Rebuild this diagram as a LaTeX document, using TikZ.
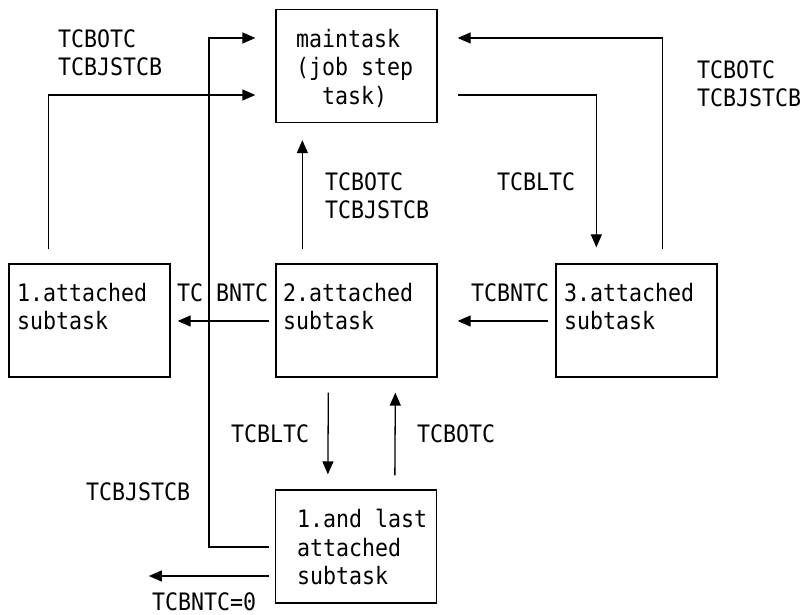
\documentclass[tikz,border=0pt]{standalone}
\usepackage{fontspec}
\setmainfont[FakeStretch=0.9]{DejaVu Sans Mono}
\usetikzlibrary{arrows.meta,calc}
\tikzset{
  box/.style={draw, line width=1.3pt, minimum width=161pt, minimum height=113pt, inner sep=0pt},
  txt/.style={anchor=north west, inner sep=0pt, align=left},
  arr/.style={line width=1.3pt, -{Triangle[length=13pt,width=11pt]}},
}
\begin{document}
\begin{tikzpicture}[x=1pt,y=-1pt, every node/.style={font=\fontsize{24}{28.5}\selectfont}]
\useasboundingbox (0,0) rectangle (804,615);
% boxes
\node[box] (main) at (356.5,66) {};
\node[box] (box1) at (89.5,320.5) {};
\node[box] (box2) at (356.5,320.5) {};
\node[box] (box3) at (636.5,320.5) {};
\node[box] (box4) at (356,546.5) {};
% box texts
\node[txt] (tmain) at (296,29) {maintask\\(job step\\~~task)};
\node[txt] (t1) at (17,283) {1.attached\\subtask};
\node[txt] (t2) at (283,283) {2.attached\\subtask};
\node[txt] (t3) at (564,283) {3.attached\\subtask};
\node[txt] (t4) at (297,509) {1.and last\\attached\\subtask};
% labels
\node[txt] (l1) at (58,29) {TCBOTC\\TCBJSTCB};
\node[txt] (l2) at (325,172) {TCBOTC\\TCBJSTCB};
\node[txt] (l3) at (497,172) {TCBLTC};
\node[txt] (l4) at (697,60) {TCBOTC\\TCBJSTCB};
\node[txt] (l5) at (177,283) {TC BNTC};
\node[txt] (l6) at (471,283) {TCBNTC};
\node[txt] (l7) at (231,424) {TCBLTC};
\node[txt] (l8) at (417,424) {TCBOTC};
\node[txt] (l9) at (86,482) {TCBJSTCB};
\node[txt] (l10) at (152,592) {TCBNTC=0};
% connectors
\coordinate (jv) at (209,38);
\draw[arr] ($(box1.north west)+(40,-14)$) |- ($(main.west)+(-20,29)$);
\draw[arr] ($(box4.west)+(-6,0.5)$) -| (jv) -- ($(main.west)+(-20,-28)$);
\draw[arr] ($(box2.north west)+(27,-14)$) -- ($(main.south west)+(27,17)$);
\draw[arr] ($(main.east)+(20,29)$) -| ($(box3.north west)+(41,-16)$);
\draw[arr] ($(box3.north west)+(107,-14)$) |- ($(main.east)+(20,-28)$);
\draw[arr] ($(box2.west)+(-6,0.5)$) -- ($(box1.east)+(7,0.5)$);
\draw[arr] ($(box3.west)+(-7,0.5)$) -- ($(box2.east)+(20,0.5)$);
\draw[arr] ($(box2.south west)+(53,15)$) -- ($(box4.north west)+(53,-15)$);
\draw[arr] ($(box4.north west)+(120,-14)$) -- ($(box2.south west)+(120,15)$);
\draw[arr] ($(box4.west)+(-6,29.5)$) -- ++(-120,0);
\end{tikzpicture}
\end{document}
